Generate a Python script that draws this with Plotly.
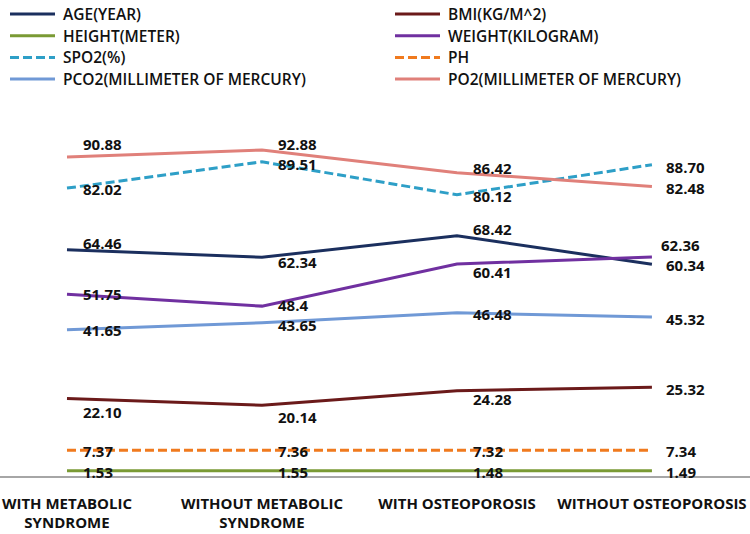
import plotly.graph_objects as go

categories = ["WITH METABOLIC<br>SYNDROME", "WITHOUT METABOLIC<br>SYNDROME",
              "WITH OSTEOPOROSIS", "WITHOUT OSTEOPOROSIS"]

# displayed values (as printed on the chart)
age = ["64.46", "62.34", "68.42", "60.34"]
bmi = ["22.10", "20.14", "24.28", "25.32"]
height = ["1.53", "1.55", "1.48", "1.49"]
weight = ["51.75", "48.4", "60.41", "62.36"]
spo2 = ["82.02", "89.51", "80.12", "88.70"]
ph = ["7.37", "7.36", "7.32", "7.34"]
pco2 = ["41.65", "43.65", "46.48", "45.32"]
po2 = ["90.88", "92.88", "86.42", "82.48"]

series = [
    ("AGE(YEAR)", age, "#1b2f5e", "solid"),
    ("BMI(KG/M^2)", bmi, "#6b1a1a", "solid"),
    ("HEIGHT(METER)", height, "#7a9a34", "solid"),
    ("WEIGHT(KILOGRAM)", weight, "#7030a0", "solid"),
    ("SPO2(%)", spo2, "#2e9fc7", "9px,4px"),
    ("PH", ph, "#f07a1e", "9px,4px"),
    ("PCO2(MILLIMETER OF MERCURY)", pco2, "#7099d6", "solid"),
    ("PO2(MILLIMETER OF MERCURY)", po2, "#e0807a", "solid"),
]

# label offsets (xshift, yshift) in px per series per category
label_offsets = {
    "AGE(YEAR)": [(15, 7), (15, -5), (15, 7), (13, -1)],
    "BMI(KG/M^2)": [(15, -14), (15, -12), (15, -8), (13, -2)],
    "HEIGHT(METER)": [(15, -1), (15, -1), (15, -1), (13, -1)],
    "WEIGHT(KILOGRAM)": [(15, 0), (15, 1), (15, -8), (8, 12)],
    "SPO2(%)": [(15, -1), (15, -2), (15, -1), (13, -2)],
    "PH": [(15, -1), (15, -1), (15, -1), (13, -1)],
    "PCO2(MILLIMETER OF MERCURY)": [(15, 0), (15, -2), (15, -1), (13, -2)],
    "PO2(MILLIMETER OF MERCURY)": [(15, 13), (15, 6), (15, 5), (13, -1)],
}

W, H = 750, 534
T, B = 125, 58
PLOT_H = H - T - B
FONT = "Open Sans"

fig = go.Figure()
annotations = []
shapes = []
xs = list(range(len(categories)))


def px_to_paper_y(py):
    return (H - B - py) / PLOT_H


for k, (name, vals, color, dash) in enumerate(series):
    yv = [float(v) for v in vals]
    fig.add_trace(go.Scatter(
        x=xs, y=yv, mode="lines", name=name,
        line=dict(color=color, width=3, dash=dash),
        hoverinfo="skip", showlegend=False,
    ))
    for i, (v, s) in enumerate(zip(yv, vals)):
        dx, dy = label_offsets[name][i]
        annotations.append(dict(
            x=i, y=v, text=s, showarrow=False, xanchor="left", yanchor="middle",
            xshift=dx, yshift=dy, borderpad=0,
            font=dict(family=FONT, size=15, color="#111111", weight="bold"),
        ))
    # manual two-column legend
    col, row = k % 2, k // 2
    lx0 = 10 + col * 385
    ly = 14 + row * 21.7
    yp = px_to_paper_y(ly)
    shapes.append(dict(
        type="line", xref="paper", yref="paper",
        x0=lx0 / W, x1=(lx0 + 45) / W, y0=yp, y1=yp,
        line=dict(color=color, width=3, dash=dash),
    ))
    annotations.append(dict(
        xref="paper", yref="paper", x=(lx0 + 51) / W, y=yp, text=name,
        showarrow=False, xanchor="left", yanchor="middle",
        font=dict(family=FONT, size=15.5, color="#111111", weight=600),
    ))

fig.update_layout(
    width=W, height=H,
    margin=dict(l=0, r=0, t=T, b=B),
    paper_bgcolor="white", plot_bgcolor="white",
    showlegend=False,
    xaxis=dict(
        range=[-0.3436, 3.503], tickmode="array", tickvals=xs, ticktext=categories,
        showgrid=False, zeroline=False, showline=True, linecolor="#a6a6a6", linewidth=1.5,
        ticks="", ticklabelstandoff=13,
        tickfont=dict(family=FONT, size=15, color="#111111", weight="bold"),
        fixedrange=True,
    ),
    yaxis=dict(
        range=[0, 100], visible=False, showgrid=False, zeroline=False, fixedrange=True,
    ),
    annotations=annotations,
    shapes=shapes,
)

fig.write_html("out.html")
